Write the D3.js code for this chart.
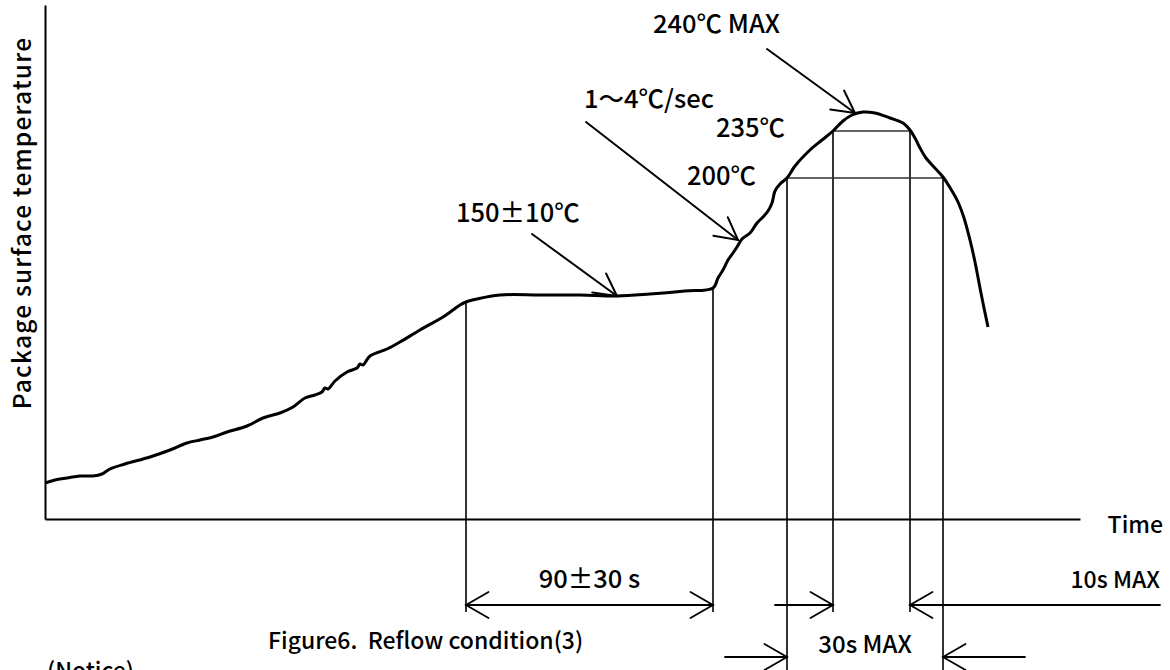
<!DOCTYPE html>
<html><head><meta charset="utf-8">
<script src="https://cdn.jsdelivr.net/npm/d3@7"></script>
<style>
html,body{margin:0;padding:0;background:#fff;}
svg text{font-family:"Noto Sans CJK JP","Liberation Sans",sans-serif;fill:#000;white-space:pre;font-weight:500;}
</style></head>
<body>
<svg id="c" width="1170" height="670"></svg>
<script>
// ---- data (abstract units: time units along x, temperature level units along y) ----
const curveTime = [0,4,8.8,14,19.2,22.8,26,32,42,50,56.8,62,67.2,72.8,80.8,87.2,94,99.2,104,108,110.8,112,113.2,116,120.8,124.8,126,127.2,130,136.8,142,150,159.2,163.2,166,168.4,172.8,182,198,214,228.8,242,256,267.2,269.2,271.2,273.2,275.2,276.8,278.8,282,284.8,287.2,289.2,290.8,292,294,296.8,300,306,310.8,315.2,319.2,322.8,327.2,332,338,343.2,346,348,350,352.4,355.2,359.2,362.8,365.2,367.6,370,372,374,375.6,377.2];
const curveTemp = [18,19.5,20.5,21.5,21.5,22.5,25,27.5,31,34.5,38,39.5,41,43.5,46.5,50.5,53,56,60.5,62,63.5,65.5,65,69,73.5,75.5,77.5,77,81.5,85,88.5,94.5,101,104.5,107,108.5,110,112,112,112,111.5,112.5,114,115.5,120.5,124.5,129.5,133,136,140,143,148,151,154,158,164,167.5,170.5,176.5,184.5,189.5,194,199,202,203.5,203,200.5,198,194.5,190.5,185.5,180.5,176.5,171,164,158.5,150.5,139.5,128.5,115.5,105.5,96];
// guide times: soak start, soak end, 200°C up, 235°C up, 235°C down, 200°C down
const guideTimes = [168.4, 267.2, 296.8, 315.2, 346, 359.2];
const levelTemps = {"235":194, "200":170.5};
// callout targets on curve [time, level]
const calloutTargets = [[324,203],[228.8,111.5],[277.2,139.5]];
const calloutLabels = ["240℃ MAX","150±10℃","1～4℃/sec"];
const levelLabels = ["235℃","200℃"];
const dimLabels = ["90±30 s","10s MAX","30s MAX"];
const axisTitles = ["Package surface temperature","Time"];
const captionText = "Figure6.  Reflow condition(3)";
const noticeText = "(Notice)";

// ---- layout ----
const svg = d3.select("#c");
const x = d3.scaleLinear().domain([0,414]).range([45,1080]);
const y = d3.scaleLinear().domain([0,257]).range([519,5]);

const FS = 25.5;

// axes
svg.append("g").attr("transform","translate(0,519)")
  .call(d3.axisBottom(x).tickValues([]).tickSizeOuter(0))
  .call(g=>g.select(".domain").attr("stroke","#000").attr("stroke-width",2));
svg.append("g").attr("transform","translate(45,0)")
  .call(d3.axisLeft(y).tickValues([]).tickSizeOuter(0))
  .call(g=>g.select(".domain").attr("stroke","#000").attr("stroke-width",2));

svg.append("text").attr("transform","translate(31,223) rotate(-90)")
  .attr("text-anchor","middle").attr("font-size",24.5).attr("letter-spacing",1.2).text(axisTitles[0]);
svg.append("text").attr("x",1163).attr("y",533).attr("text-anchor","end").attr("font-size",23).text(axisTitles[1]);

// guides
const row1 = 605, row2 = 657;
const gBottoms = [612,612,670,612,612,670];
const curvePts = curveTime.map((t,i)=>[t,curveTemp[i]]);
function levelAt(t){
  for(let i=1;i<curvePts.length;i++){
    if(curvePts[i][0]>=t){const a=curvePts[i-1],b=curvePts[i];return a[1]+(b[1]-a[1])*(t-a[0])/(b[0]-a[0]);}
  }
  return curvePts[curvePts.length-1][1];
}
const guideTopLevels = [levelAt(guideTimes[0]), levelAt(guideTimes[1]), levelTemps["200"], levelTemps["235"], levelTemps["235"], levelTemps["200"]];
svg.append("g").selectAll("line").data(guideTimes).join("line")
  .attr("x1",d=>x(d)).attr("x2",d=>x(d))
  .attr("y1",(d,i)=>y(guideTopLevels[i])).attr("y2",(d,i)=>gBottoms[i])
  .attr("stroke","#000").attr("stroke-width",1.6);

// level lines
svg.append("line").attr("x1",x(guideTimes[3])).attr("x2",x(guideTimes[4]))
  .attr("y1",y(levelTemps["235"])).attr("y2",y(levelTemps["235"])).attr("stroke","#333").attr("stroke-width",1.6);
svg.append("line").attr("x1",x(guideTimes[2])).attr("x2",x(guideTimes[5]))
  .attr("y1",y(levelTemps["200"])).attr("y2",y(levelTemps["200"])).attr("stroke","#333").attr("stroke-width",1.6);

// curve
svg.append("path").datum(curvePts)
  .attr("d",d3.line().x(d=>x(d[0])).y(d=>y(d[1])).curve(d3.curveCatmullRom.alpha(0.5)))
  .attr("fill","none").attr("stroke","#000").attr("stroke-width",3).attr("stroke-linejoin","round");

// arrow helper
function arrow(x1,y1,x2,y2,L,ang,w){
  const g = svg.append("g").attr("stroke","#000").attr("stroke-width",w||1.8).attr("fill","none").attr("stroke-linecap","round");
  g.append("line").attr("x1",x1).attr("y1",y1).attr("x2",x2).attr("y2",y2);
  const a = Math.atan2(y1-y2,x1-x2);
  const r = ang*Math.PI/180;
  g.append("path").attr("d",`M${x2+L*Math.cos(a+r)},${y2+L*Math.sin(a+r)}L${x2},${y2}L${x2+L*Math.cos(a-r)},${y2+L*Math.sin(a-r)}`);
}

// callouts
const calloutTails = [[767,49],[532,234],[586,122]];
const calloutTextPos = [[653,33],[456,222],[584,108]];
calloutTargets.forEach((d,i)=>{
  arrow(calloutTails[i][0],calloutTails[i][1],x(d[0]),y(d[1]),25,28,2);
  svg.append("text").attr("x",calloutTextPos[i][0]).attr("y",calloutTextPos[i][1]).attr("font-size",FS).text(calloutLabels[i]);
});
svg.append("text").attr("x",716).attr("y",137).attr("font-size",FS).text(levelLabels[0]);
svg.append("text").attr("x",687).attr("y",185).attr("font-size",FS).text(levelLabels[1]);

// dimension arrows
arrow((x(guideTimes[0])+x(guideTimes[1]))/2, row1, x(guideTimes[0]), row1, 26, 30);
arrow((x(guideTimes[0])+x(guideTimes[1]))/2, row1, x(guideTimes[1]), row1, 26, 30);
svg.append("text").attr("x",(x(guideTimes[0])+x(guideTimes[1]))/2).attr("y",588).attr("text-anchor","middle").attr("font-size",FS).text(dimLabels[0]);

arrow(x(guideTimes[2])-12, row1, x(guideTimes[3]), row1, 26, 30);
arrow(1160, row1, x(guideTimes[4]), row1, 26, 30);
svg.append("text").attr("x",1160).attr("y",588).attr("text-anchor","end").attr("font-size",23).text(dimLabels[1]);

arrow(725, row2, x(guideTimes[2]), row2, 26, 30);
arrow(1025, row2, x(guideTimes[5]), row2, 26, 30);
svg.append("text").attr("x",(x(guideTimes[2])+x(guideTimes[5]))/2).attr("y",653).attr("text-anchor","middle").attr("font-size",24).text(dimLabels[2]);

// caption
svg.append("text").attr("x",268).attr("y",649).attr("font-size",23).text(captionText);
svg.append("text").attr("x",47).attr("y",679).attr("font-size",23).text(noticeText);
</script>
</body></html>
